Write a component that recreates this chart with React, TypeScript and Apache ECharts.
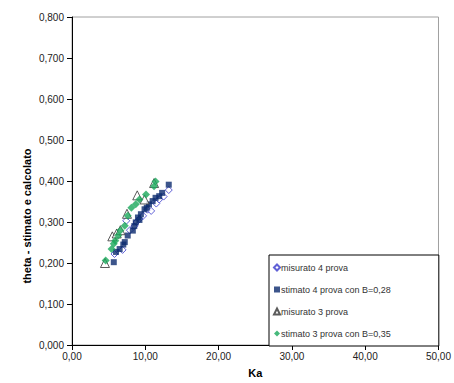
import React, { useEffect, useRef } from "react";
import * as echarts from "echarts";

const misurato4: [number, number][] = [
  [5.8, 0.222], [6.9, 0.232], [7.4, 0.303], [7.9, 0.28], [8.5, 0.29], [8.8, 0.3],
  [9.2, 0.307], [9.7, 0.315], [10.3, 0.33], [10.8, 0.327], [11.5, 0.345],
  [11.9, 0.355], [12.5, 0.362], [13.2, 0.378],
];
const stimato4: [number, number][] = [
  [5.7, 0.202], [6.0, 0.227], [6.5, 0.234], [7.2, 0.251], [7.6, 0.267], [8.3, 0.279],
  [8.7, 0.299], [9.0, 0.311], [9.4, 0.319], [9.9, 0.331], [10.5, 0.343], [11.0, 0.351],
  [11.4, 0.359], [11.9, 0.363], [12.3, 0.371], [13.2, 0.391], [8.5, 0.29], [9.2, 0.305],
  [10.2, 0.335], [7.0, 0.245],
];
const misurato3: [number, number][] = [
  [4.5, 0.2], [5.5, 0.265], [6.1, 0.272], [7.5, 0.32], [8.9, 0.365], [9.9, 0.355],
  [11.2, 0.395], [6.6, 0.28],
];
const stimato3: [number, number][] = [
  [4.6, 0.206], [5.4, 0.234], [5.7, 0.247], [5.9, 0.254], [6.3, 0.267], [6.6, 0.279],
  [7.2, 0.291], [7.6, 0.315], [8.1, 0.335], [8.7, 0.343], [9.2, 0.355], [10.1, 0.367],
  [11.2, 0.387], [11.4, 0.399],
];
const seriesNames = [
  "misurato 4 prova",
  "stimato 4 prova con B=0,28",
  "misurato 3 prova",
  "stimato 3 prova con B=0,35",
];

export default function App() {
  const ref = useRef<HTMLDivElement>(null);
  useEffect(() => {
    const chart = echarts.init(ref.current!, null, { renderer: "svg" });
    const font = "Liberation Sans, Arial, sans-serif";
    chart.setOption({
      animation: false,
      backgroundColor: "#ffffff",
      textStyle: { fontFamily: font },
      grid: { left: 72, top: 17, right: 12, bottom: 34, show: true, borderColor: "#a0a0a0", borderWidth: 1 },
      legend: {
        orient: "vertical",
        left: 269,
        top: 255,
        width: 168,
        padding: [8, 48, 8, 4],
        itemGap: 13,
        itemWidth: 6,
        itemHeight: 6,
        borderColor: "#000000",
        borderWidth: 1,
        backgroundColor: "#ffffff",
        textStyle: { fontSize: 9, color: "#333", fontFamily: font, padding: [0, 0, 0, -4] },
        data: seriesNames,
      },
      xAxis: {
        type: "value",
        min: 0,
        max: 50,
        interval: 10,
        name: "Ka",
        nameLocation: "middle",
        nameGap: 22,
        nameTextStyle: { fontWeight: "bold", fontSize: 11, color: "#000" },
        axisLine: { lineStyle: { color: "#000" } },
        axisTick: { show: true, lineStyle: { color: "#000" } },
        splitLine: { show: false },
        axisLabel: {
          fontSize: 10,
          color: "#222",
          margin: 6,
          formatter: (v: number) => v.toFixed(2).replace(".", ","),
        },
      },
      yAxis: {
        type: "value",
        min: 0,
        max: 0.8,
        interval: 0.1,
        axisLine: { show: true, lineStyle: { color: "#000" } },
        axisTick: { show: true, lineStyle: { color: "#000" } },
        splitLine: { show: false },
        axisLabel: {
          fontSize: 10,
          color: "#222",
          margin: 8,
          formatter: (v: number) => v.toFixed(3).replace(".", ","),
        },
      },
      graphic: [
        {
          type: "text",
          x: 27,
          y: 216,
          rotation: Math.PI / 2,
          style: {
            text: "theta - stimato e calcolato",
            fontSize: 11,
            fontWeight: "bold",
            fontFamily: font,
            fill: "#000",
            align: "center",
            verticalAlign: "middle",
          },
        },
      ],
      series: [
        {
          name: seriesNames[0],
          type: "scatter",
          data: misurato4,
          symbol: "diamond",
          symbolSize: 7,
          itemStyle: { color: "#ffffff", borderColor: "#3a3acc", borderWidth: 1 },
        },
        {
          name: seriesNames[1],
          type: "scatter",
          data: stimato4,
          symbol: "rect",
          symbolSize: 6,
          itemStyle: { color: "#0b2a6e" },
        },
        {
          name: seriesNames[2],
          type: "scatter",
          data: misurato3,
          symbol: "triangle",
          symbolSize: 9,
          itemStyle: { color: "#ffffff", borderColor: "#333333", borderWidth: 1 },
        },
        {
          name: seriesNames[3],
          type: "scatter",
          data: stimato3,
          symbol: "diamond",
          symbolSize: 8,
          itemStyle: { color: "#19a85a" },
        },
      ],
    });
    return () => chart.dispose();
  }, []);
  return <div ref={ref} style={{ width: 454, height: 383, position: "absolute", left: 0, top: 0 }} />;
}
